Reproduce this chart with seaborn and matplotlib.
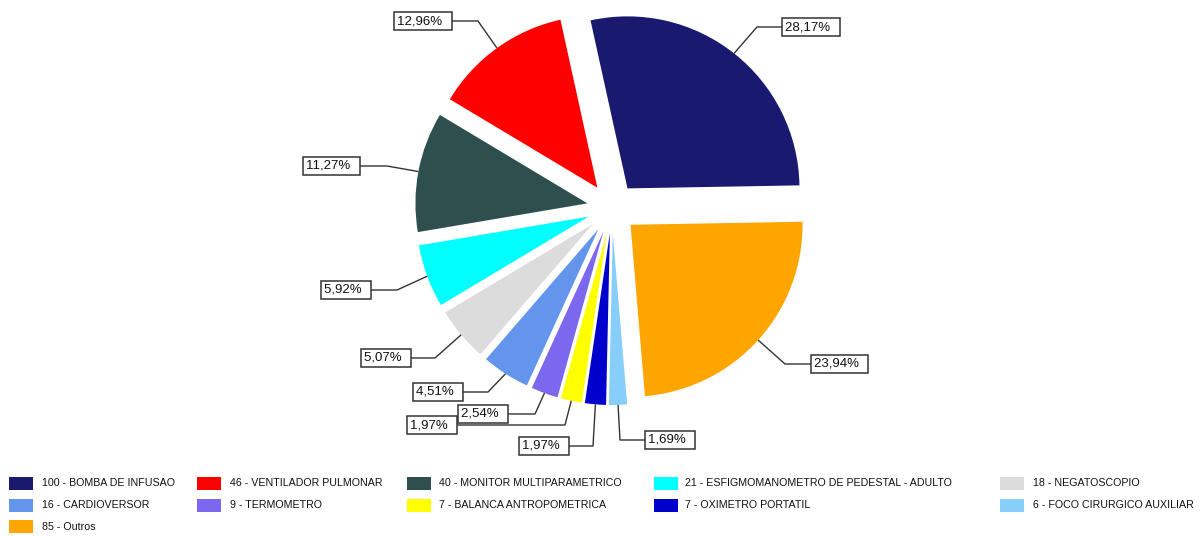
import matplotlib
matplotlib.use("Agg")
import matplotlib.pyplot as plt
from matplotlib.patches import Rectangle
import numpy as np
import seaborn as sns

# Equipment counts, in drawing order (counter-clockwise from the right)
equipment = [
    "BOMBA DE INFUSAO",
    "VENTILADOR PULMONAR",
    "MONITOR MULTIPARAMETRICO",
    "ESFIGMOMANOMETRO DE PEDESTAL - ADULTO",
    "NEGATOSCOPIO",
    "CARDIOVERSOR",
    "TERMOMETRO",
    "BALANCA ANTROPOMETRICA",
    "OXIMETRO PORTATIL",
    "FOCO CIRURGICO AUXILIAR",
    "Outros",
]
counts = [100, 46, 40, 21, 18, 16, 9, 7, 7, 6, 85]
colors = ["#191970", "#FF0000", "#2F4F4F", "#00FFFF", "#DCDCDC", "#6495ED",
          "#7B68EE", "#FFFF00", "#0000CD", "#87CEFA", "#FFA500"]

sns.set_theme(style="white")
plt.rcParams["font.family"] = ["Liberation Sans", "DejaVu Sans"]

W, H = 1200, 536
fig = plt.figure(figsize=(W / 100, H / 100), dpi=100)
ax = fig.add_axes([0, 0, 1, 1])

# The axes work in pixel units; layout values below are measured from the top
CENTER = (612, H - 208)
RADIUS = 172
GAP = 25

wedges, _ = ax.pie(counts, colors=colors, startangle=1, counterclock=True,
                   radius=RADIUS, center=CENTER, explode=[GAP] * len(counts),
                   wedgeprops=dict(linewidth=0, antialiased=True))
ax.set_xlim(0, W)
ax.set_ylim(0, H)
ax.set_aspect("equal")
ax.axis("off")

# Percentage callouts: (box left, box middle y, elbow x)
label_layout = [
    (782, 27, 757), (394, 21, 478), (303, 166, 387), (321, 290, 397),
    (361, 358, 435), (413, 392, 488), (458, 414, 535), (407, 425, 565),
    (519, 446, 593), (645, 440, 620), (811, 364, 785),
]
total = sum(counts)
for w, n, (bx, by, ex) in zip(wedges, counts, label_layout):
    ang = np.deg2rad((w.theta1 + w.theta2) / 2)
    cx, cy = w.center
    sx, sy = cx + w.r * np.cos(ang), cy + w.r * np.sin(ang)
    ey = H - by
    pct = f"{100 * n / total:.2f}".replace(".", ",") + "%"
    ax.plot([sx, ex, bx + 20], [sy, ey, ey], color="#333333", lw=1.0,
            solid_capstyle="butt", zorder=3)
    ax.text(bx + 2.6, ey, pct + "  ", ha="left", va="center", fontsize=9.5,
            color="#111111", zorder=5,
            bbox=dict(boxstyle="square,pad=0.2", fc="white", ec="#333333", lw=1.1))

# Legend grid
swatch_x = [9, 197, 407, 654, 1000]
text_x = [42, 230, 439, 685, 1033]
row_y = [483.5, 505, 526.5]
for i, (name, n, col) in enumerate(zip(equipment, counts, colors)):
    r, c = divmod(i, 5)
    yc = H - row_y[r]
    ax.add_patch(Rectangle((swatch_x[c], yc - 6.5), 24, 13, facecolor=col,
                           edgecolor="none", zorder=4))
    ax.text(text_x[c], yc, f"{n} - {name}", ha="left", va="center",
            fontsize=7.7, color="#111111", zorder=4)

fig.savefig("out.png", dpi=100, facecolor="white")
